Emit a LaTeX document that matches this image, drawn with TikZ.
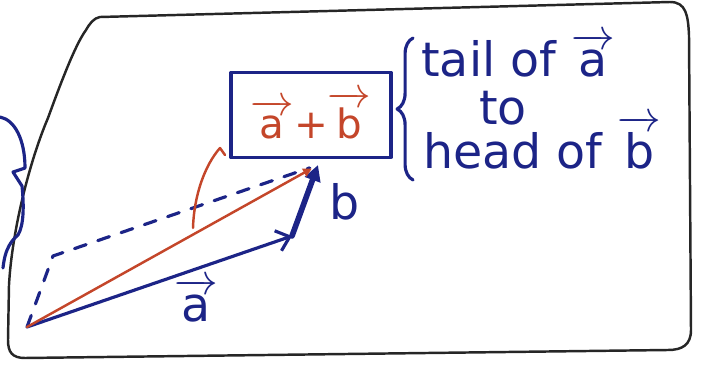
\documentclass[tikz,border=0pt]{standalone}
\usepackage{amsmath}
\usepackage{fontspec}
\setmainfont{DejaVu Sans}
\usepackage{tikz}
\usetikzlibrary{arrows.meta}
\usetikzlibrary{decorations.pathreplacing}
\definecolor{penblue}{RGB}{28,36,135}
\definecolor{penred}{RGB}{196,70,42}

\begin{document}
\begin{tikzpicture}[line cap=round,line join=round,x=0.02cm,y=-0.02cm,
	frame/.style={line width=1.4pt,black!85},
	bluepen/.style={line width=1.8pt,penblue},
	redpen/.style={line width=1.4pt,penred},
	hand/.style={inner sep=0pt,font=\fontsize{27}{30}\selectfont}]
	\useasboundingbox (0,0) rectangle (701,372);
	% the sheet
	\draw [frame] (100,17) -- (670,2) .. controls (686,2) and (688,15) .. (689,35) -- (691,330) .. controls (691,345) and (682,350) .. (668,350) -- (25,358) .. controls (12,358) and (8,352) .. (8,340) -- (9,285) .. controls (12,230) and (30,160) .. (48,118) .. controls (60,85) and (75,45) .. (86,30) .. controls (90,23) and (94,18) .. (100,17);
	% brace cut off at the left
	\draw [bluepen] (0,117) .. controls (15,120) and (25,140) .. (25,168) -- (13,172) -- (22,186) .. controls (24,205) and (24,225) .. (18,235) .. controls (12,240) and (5,248) .. (3,268);
	% points of the sum
	\coordinate (O) at (27,327);
	\coordinate (A) at (292,236);
	\coordinate (B) at (318,165);
	\coordinate (P) at (53,256);
	\draw [bluepen,dash pattern=on 7pt off 7pt,shorten >=5pt] (O) -- (P) -- (B);
	\draw [bluepen,-{Straight Barb[length=7pt,width=12pt]}] (O) -- (A);
	\draw [bluepen,line width=3.2pt,-{Triangle[length=9pt,width=9pt]}] (A) -- (B);
	\draw [redpen,shorten >=4pt,-{Triangle[length=5pt,width=5pt]}] (O) -- (B);
	% angle mark
	\draw [redpen] (193,228) .. controls (194,195) and (205,165) .. (220,148) -- (225,155);
	% labels
	\node [hand,draw=penblue,line width=1.8pt,text=penred,minimum width=3.2cm,minimum height=1.7cm,font=\fontsize{23}{25}\selectfont] (sum) at (311,115) {$\overrightarrow{\text{a}}$+$\overrightarrow{\text{b}}$};
	\node [hand,penblue,anchor=base] (alabel) at (196,321) {$\overrightarrow{\text{a}}$};
	\node [hand,penblue,anchor=base] (blabel) at (345,219) {b};
	\coordinate (bbot) at (413,180);
	\coordinate (btop) at (413,38);
	\draw [bluepen,decorate,decoration={brace,amplitude=9pt}] (bbot) -- (btop);
	\node [hand,penblue,anchor=base west] (tail) at (421,76) {tail of $\overrightarrow{\text{a}}$};
	\node [hand,penblue,anchor=base] (to) at (503,124) {to};
	\node [hand,penblue,anchor=base west] (head) at (423,168) {head of $\overrightarrow{\text{b}}$};
\end{tikzpicture}
\end{document}
